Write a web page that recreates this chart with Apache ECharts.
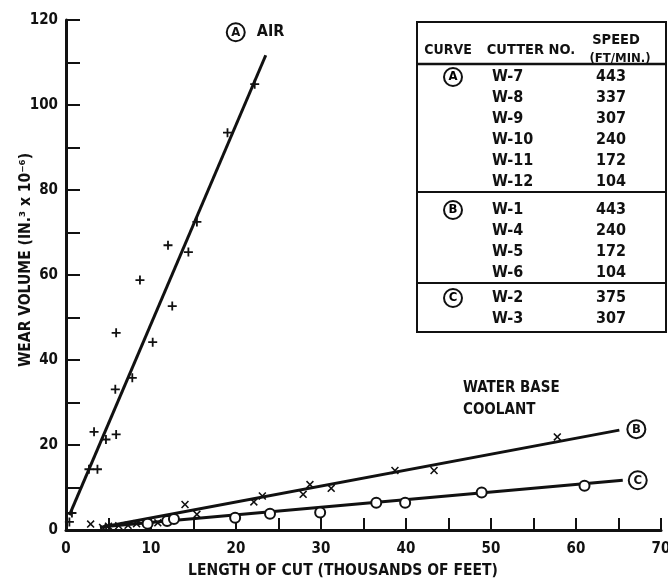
<!DOCTYPE html>
<html>
<head>
<meta charset="utf-8">
<title>Wear volume vs length of cut</title>
<script src="https://cdn.jsdelivr.net/npm/echarts@6/dist/echarts.min.js"></script>
<style>
  html, body { margin: 0; padding: 0; background: #ffffff; }
  #chart { width: 668px; height: 581px; }
</style>
</head>
<body>
<div id="chart"></div>
<script>
// Curve A: cutting in air (length of cut in thousands of feet, wear volume in 1e-6 cubic inches)
const airPoints = [
  [0.4, 1.9], [0.7, 4.0], [2.7, 14.3], [3.7, 14.3], [3.3, 23.1], [4.7, 21.3],
  [5.9, 22.5], [5.8, 33.1], [5.9, 46.4], [7.8, 35.8], [8.7, 58.8], [10.2, 44.2],
  [12.0, 67.0], [12.5, 52.7], [14.4, 65.4], [15.4, 72.5], [19.0, 93.5], [22.2, 104.9]
];
const airFit = [[0.4, 3.5], [23.5, 111.7]];

// Curve B: water base coolant
const coolantBPoints = [
  [2.9, 1.4], [4.3, 0.6], [5.0, 0.9], [6.2, 1.0], [7.3, 1.1], [8.3, 1.5], [10.8, 1.7],
  [14.0, 6.0], [15.4, 3.7], [22.1, 6.6], [23.1, 8.0], [27.9, 8.4], [28.7, 10.7],
  [31.2, 9.8], [38.7, 14.0], [43.3, 14.0], [57.8, 21.9]
];
const coolantBFit = [[4.0, 0.6], [65.1, 23.5]];

// Curve C: water base coolant
const coolantCPoints = [
  [9.6, 1.5], [11.9, 2.1], [12.7, 2.6], [19.9, 2.9], [24.0, 3.8], [29.9, 4.1],
  [36.5, 6.4], [39.9, 6.4], [48.9, 8.8], [61.0, 10.4]
];
const coolantCFit = [[5.0, 0.9], [65.5, 11.7]];

// Axis tick labels
const xTickLabels = [0, 10, 20, 30, 40, 50, 60, 70];
const yTickLabels = [0, 20, 40, 60, 80, 100, 120];

// Key table
const tableHeader = ['CURVE', 'CUTTER NO.', 'SPEED', '(FT/MIN.)'];
const curveIds = ['A', 'B', 'C'];
const cutterNos = [
  ['W-7', 'W-8', 'W-9', 'W-10', 'W-11', 'W-12'],
  ['W-1', 'W-4', 'W-5', 'W-6'],
  ['W-2', 'W-3']
];
const speeds = [
  [443, 337, 307, 240, 172, 104],
  [443, 240, 172, 104],
  [375, 307]
];

const xTitle = 'LENGTH OF CUT (THOUSANDS OF FEET)';
const yTitle = 'WEAR VOLUME (IN.³ x 10⁻⁶)';
const airNote = 'AIR';
const coolantNote = ['WATER BASE', 'COOLANT'];

const FONT = '"DejaVu Sans Condensed", "DejaVu Sans", sans-serif';
const INK = '#111';

const circRich = {
  circ: {
    width: 18, height: 18, borderRadius: 9, borderColor: INK, borderWidth: 2,
    align: 'center', verticalAlign: 'middle', lineHeight: 18,
    fontSize: 13, fontWeight: 'bold', fontFamily: FONT, color: INK
  },
  txt: { fontSize: 16, fontWeight: 'bold', fontFamily: FONT, color: INK, padding: [0, 0, 0, 12] }
};

const plusSymbol = 'path://M4,0H6V4H10V6H6V10H4V6H0V4H4Z';
const crossSymbol = 'path://M0,1.4L1.4,0L5,3.6L8.6,0L10,1.4L6.4,5L10,8.6L8.6,10L5,6.4L1.4,10L0,8.6L3.6,5Z';

function fitSeries(data, labelText, offset) {
  return {
    type: 'line', data: data, symbol: 'none', silent: true, z: 2,
    lineStyle: { color: INK, width: 3 },
    endLabel: { show: true, formatter: () => labelText, rich: circRich, offset: offset, distance: 5 },
    animation: false
  };
}

// Table drawn as graphic elements
const T = { left: 417, top: 22, width: 249, height: 310 };
const rowStep = 21;
const groupStart = [77, 210, 298];
const groupLines = [64, 192, 283];
const tableGraphics = [];
tableGraphics.push({ type: 'rect', shape: { x: T.left, y: T.top, width: T.width, height: T.height },
  style: { fill: 'none', stroke: INK, lineWidth: 2 } });
groupLines.forEach((y, i) => tableGraphics.push({ type: 'line',
  shape: { x1: T.left, y1: y, x2: T.left + T.width, y2: y },
  style: { stroke: INK, lineWidth: i === 0 ? 2.5 : 2 } }));
const tStyle = (x, y, text, size, align) => ({ type: 'text', x: x, y: y,
  style: { text: text, fontSize: size, fontWeight: 'bold', fontFamily: FONT, fill: INK,
    align: align || 'center', verticalAlign: 'middle' } });
tableGraphics.push(tStyle(448, 50, tableHeader[0], 14));
tableGraphics.push(tStyle(531, 50, tableHeader[1], 14.5));
tableGraphics.push(tStyle(616, 40, tableHeader[2], 14.5));
tableGraphics.push(tStyle(620, 59, tableHeader[3], 13));
curveIds.forEach((id, g) => {
  tableGraphics.push({ type: 'text', x: 453, y: groupStart[g], style: {
    text: '{circ|' + id + '}', rich: circRich, align: 'center', verticalAlign: 'middle' } });
  cutterNos[g].forEach((c, r) => {
    const y = groupStart[g] + r * rowStep;
    tableGraphics.push(tStyle(492, y, c, 16, 'left'));
    tableGraphics.push(tStyle(611, y, String(speeds[g][r]), 16));
  });
});
tableGraphics.push(tStyle(463, 388, coolantNote[0], 15, 'left'));
tableGraphics.push(tStyle(463, 410, coolantNote[1], 15, 'left'));

const labelStyle = { fontSize: 15, fontWeight: 'bold', fontFamily: FONT, color: INK };

const chart = echarts.init(document.getElementById('chart'), null, { renderer: 'canvas' });
chart.setOption({
  backgroundColor: '#ffffff',
  animation: false,
  grid: { left: 66, right: 7, top: 20, bottom: 51, containLabel: false, outerBoundsMode: 'none' },
  xAxis: {
    type: 'value', min: 0, max: 70, interval: 5,
    name: xTitle, nameLocation: 'middle', nameGap: 33,
    nameTextStyle: { fontSize: 15.5, fontWeight: 'bold', fontFamily: FONT, color: INK, padding: [0, 41, 0, 0] },
    axisLine: { show: true, lineStyle: { color: INK, width: 3 } },
    axisTick: { show: true, inside: true, length: 12, lineStyle: { color: INK, width: 2 } },
    axisLabel: Object.assign({ margin: 12 }, labelStyle, {
      formatter: v => (xTickLabels.indexOf(v) >= 0 ? String(v) : '') }),
    splitLine: { show: false }
  },
  yAxis: {
    type: 'value', min: 0, max: 120, interval: 10,
    name: yTitle, nameLocation: 'middle', nameGap: 32, nameRotate: 90, nameMoveOverlap: false,
    nameTextStyle: { fontSize: 15.5, fontWeight: 'bold', fontFamily: FONT, color: INK, padding: [0, 0, 0, 30] },
    axisLine: { show: true, lineStyle: { color: INK, width: 3 } },
    axisTick: { show: true, inside: true, length: 14, lineStyle: { color: INK, width: 2 } },
    axisLabel: Object.assign({ margin: 8 }, labelStyle, {
      formatter: v => (yTickLabels.indexOf(v) >= 0 ? String(v) : '') }),
    splitLine: { show: false }
  },
  graphic: tableGraphics,
  series: [
    fitSeries(airFit, '{circ|A}{txt|' + airNote + '}', [-44, -23]),
    fitSeries(coolantBFit, '{circ|B}', [3, -1]),
    fitSeries(coolantCFit, '{circ|C}', [1, 0]),
    { type: 'scatter', data: airPoints, symbol: plusSymbol, symbolSize: 9, z: 3,
      itemStyle: { color: INK, opacity: 1 }, silent: true },
    { type: 'scatter', data: coolantBPoints, symbol: crossSymbol, symbolSize: 8, z: 3,
      itemStyle: { color: INK, opacity: 1 }, silent: true },
    { type: 'scatter', data: coolantCPoints, symbol: 'circle', symbolSize: 10, z: 4,
      itemStyle: { color: '#ffffff', borderColor: INK, borderWidth: 2, opacity: 1 }, silent: true }
  ]
});
</script>
</body>
</html>
